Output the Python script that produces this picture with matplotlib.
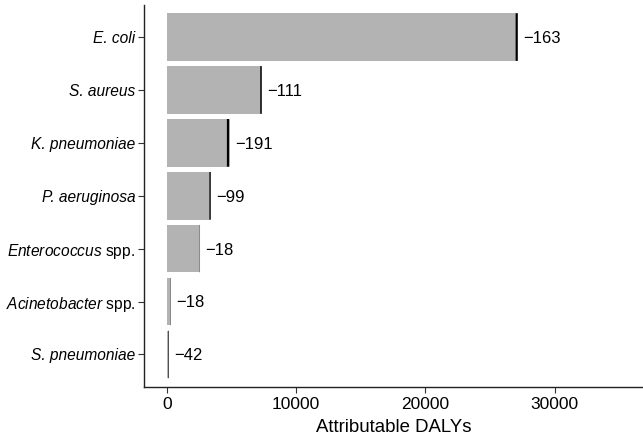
import matplotlib.pyplot as plt

plt.rcParams['font.family'] = ['Liberation Sans', 'DejaVu Sans']
plt.rcParams['mathtext.fontset'] = 'custom'
plt.rcParams['mathtext.rm'] = 'Liberation Sans'
plt.rcParams['mathtext.it'] = 'Liberation Sans:italic'

pathogens = ['E. coli', 'S. aureus', 'K. pneumoniae', 'P. aeruginosa',
             r'$\mathit{Enterococcus}$ spp.', r'$\mathit{Acinetobacter}$ spp.', 'S. pneumoniae']
italic = [True, True, True, True, False, False, True]
dalys = [27150, 7345, 4845, 3400, 2575, 310, 155]
reduction = [163, 111, 191, 99, 18, 18, 42]

fig = plt.figure(figsize=(6.43, 4.36), dpi=100)
ax = fig.add_axes([0.2232, 0.113, 0.7768, 0.876])

y = list(range(len(pathogens)))
ax.barh(y, dalys, height=0.9, color='#b3b3b3')
ax.barh(y, reduction, left=[d - r for d, r in zip(dalys, reduction)], height=0.9,
        color='black', snap=False, linewidth=0)
for yi, d, r in zip(y, dalys, reduction):
    ax.annotate('\u2212' + str(r), (d, yi), xytext=(4, -1), textcoords='offset points',
                va='center', ha='left', fontsize=12)

ax.set_xlim(-1795, 36840)
ax.set_ylim(6.61, -0.61)
ax.set_yticks(y)
ax.set_yticklabels(pathogens, fontsize=11.2)
for lab, it in zip(ax.get_yticklabels(), italic):
    if it:
        lab.set_fontstyle('italic')
ax.set_xticks([0, 10000, 20000, 30000])
ax.tick_params(axis='x', labelsize=12.5)
ax.tick_params(length=4, width=0.8, color='#333333')
ax.tick_params(axis='y', pad=2)
ax.set_xlabel('Attributable DALYs', fontsize=13.4, labelpad=5)
ax.spines['top'].set_visible(False)
ax.spines['right'].set_visible(False)
for s in ['left', 'bottom']:
    ax.spines[s].set_linewidth(1.0)
    ax.spines[s].set_color('#222222')

fig.savefig('out.png', dpi=100)
